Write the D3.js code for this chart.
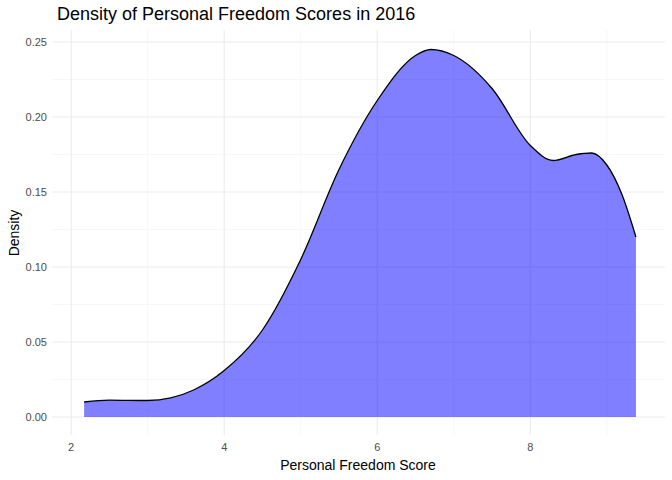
<!DOCTYPE html>
<html><head><meta charset="utf-8">
<script src="https://cdn.jsdelivr.net/npm/d3@7"></script>
<style>body{margin:0;background:#fff;font-family:"Liberation Sans",Arial,sans-serif}</style>
</head><body><svg id="c" width="672" height="480"></svg>
<script>
var scoreX = [2.17,2.5,3.0,3.3,3.6,4.0,4.5,5.0,5.5,6.0,6.5,6.7,7.0,7.5,8.0,8.3,8.6,8.8,9.0,9.2,9.38];
var densityY = [0.010,0.0113,0.011,0.0127,0.018,0.031,0.058,0.105,0.165,0.211,0.241,0.245,0.241,0.219,0.181,0.171,0.175,0.176,0.168,0.148,0.120];
var xTicks = [2,4,6,8];
var yTicks = [0,0.05,0.10,0.15,0.20,0.25];

var svg = d3.select("#c");
var x = d3.scaleLinear().domain([1.75,9.76]).range([52,665]);
var y = d3.scaleLinear().domain([-0.012,0.258]).range([435,30]);

// minor grid
var g = svg.append("g");
[1,3,5,7,9].forEach(function(v){
  g.append("line").attr("x1",x(v)).attr("x2",x(v)).attr("y1",30).attr("y2",435).attr("stroke","#f2f2f2").attr("stroke-width",0.6);
});
[0.025,0.075,0.125,0.175,0.225].forEach(function(v){
  g.append("line").attr("x1",52).attr("x2",665).attr("y1",y(v)).attr("y2",y(v)).attr("stroke","#f2f2f2").attr("stroke-width",0.6);
});
xTicks.forEach(function(v){
  g.append("line").attr("x1",x(v)).attr("x2",x(v)).attr("y1",30).attr("y2",435).attr("stroke","#ebebeb").attr("stroke-width",1.1);
  svg.append("text").attr("x",x(v)).attr("y",451).attr("text-anchor","middle").attr("font-size",11).attr("fill","#4d4d4d").text(v);
});
yTicks.forEach(function(v){
  g.append("line").attr("x1",52).attr("x2",665).attr("y1",y(v)).attr("y2",y(v)).attr("stroke","#ebebeb").attr("stroke-width",1.1);
  svg.append("text").attr("x",47).attr("y",y(v)+4).attr("text-anchor","end").attr("font-size",11).attr("fill","#4d4d4d").text(v.toFixed(2));
});

var pts = scoreX.map(function(d,i){return [d,densityY[i]];});
var area = d3.area().x(function(d){return x(d[0]);}).y0(y(0)).y1(function(d){return y(d[1]);}).curve(d3.curveMonotoneX);
var line = d3.line().x(function(d){return x(d[0]);}).y(function(d){return y(d[1]);}).curve(d3.curveMonotoneX);
svg.append("path").attr("d",area(pts)).attr("fill","#0000ff").attr("fill-opacity",0.5);
svg.append("path").attr("d",line(pts)).attr("fill","none").attr("stroke","#000").attr("stroke-width",1.3);

svg.append("text").attr("x",358).attr("y",470).attr("text-anchor","middle").attr("font-size",14).text("Personal Freedom Score");
svg.append("text").attr("transform","translate(19,233) rotate(-90)").attr("text-anchor","middle").attr("font-size",14).text("Density");
svg.append("text").attr("x",57).attr("y",20).attr("font-size",18).text("Density of Personal Freedom Scores in 2016");
</script></body></html>
